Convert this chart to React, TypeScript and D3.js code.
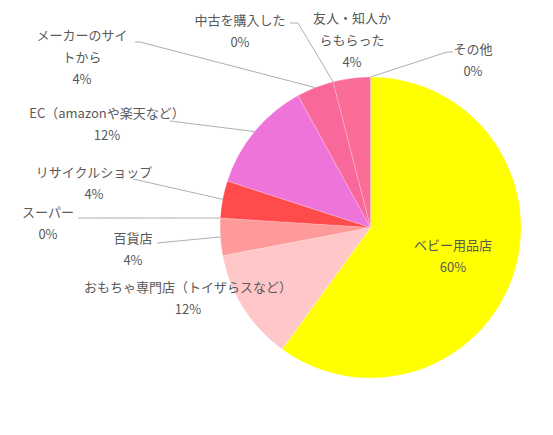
import React from 'react';
import * as d3 from 'd3';

// slices in drawing order, clockwise from 12 o'clock
const categories = [
  'ベビー用品店',
  'おもちゃ専門店（トイザらスなど）',
  '百貨店',
  'スーパー',
  'リサイクルショップ',
  'EC（amazonや楽天など）',
  'メーカーのサイ\nトから',
  '中古を購入した',
  '友人・知人か\nらもらった',
  'その他',
];
const values = [60, 12, 4, 0, 4, 12, 4, 0, 4, 0];
const colors = [
  '#FFFF00', '#FFC7C8', '#FF9A9A', '#FF7C80', '#FF4B4B',
  '#EE74DA', '#F9689A', '#F9689A', '#FA6D96', '#F2F2F2',
];

// label anchor (centre of first line) and leader-line start, per slice
const labelAt: [number, number][] = [
  [453, 245], [188, 287], [133, 238], [48, 212], [94, 172],
  [107, 113], [82, 35], [240, 20], [352, 18], [473, 49],
];
const leaderFrom: ([number, number][] | null)[] = [
  null, null,
  [[157, 243]],
  [[78, 218]],
  [[133, 179]],
  [[170, 121]],
  [[135, 42], [140, 42]],
  [[290, 23], [298, 23]],
  null,
  [[453, 52], [447, 52]],
];

const W = 553;
const H = 435;
const cx = 370.5;
const cy = 227.5;
const R = 150.5;
const lineGap = 22;
const font = '"Noto Sans CJK JP", "Noto Sans", sans-serif';

export default function App() {
  const pie = d3.pie<number>().sort(null).value(d => d).startAngle(0).endAngle(2 * Math.PI);
  const arcs = pie(values);
  const arc = d3.arc<d3.PieArcDatum<number>>().innerRadius(0).outerRadius(R);
  const edge = d3.arc<d3.PieArcDatum<number>>().innerRadius(R).outerRadius(R);
  const line = d3.line();

  return (
    <svg width={W} height={H} style={{ position: 'absolute', left: 0, top: 0, background: '#fff' }}>
      <g transform={`translate(${cx},${cy})`}>
        {arcs.map((a, i) =>
          a.value > 0 ? (
            <path key={i} d={arc(a) || ''} fill={colors[i]} stroke="#ffffff" strokeOpacity={0.35} strokeWidth={0.6} />
          ) : null
        )}
      </g>

      {arcs.map((a, i) => {
        const from = leaderFrom[i];
        if (!from) return null;
        const [ex, ey] = edge.centroid(a);
        const pts: [number, number][] = [...from, [cx + ex, cy + ey]];
        return <path key={'l' + i} d={line(pts) || ''} fill="none" stroke="#A6A6A6" strokeWidth={0.9} />;
      })}

      {categories.map((c, i) => {
        const [lx, ly] = labelAt[i];
        const rows = [...c.split('\n'), `${values[i]}%`];
        return (
          <text key={'t' + i} fontFamily={font} fontSize={13} fill="#595959" textAnchor="middle">
            {rows.map((r, j) => (
              <tspan key={j} x={lx} y={ly + j * lineGap} dy="0.35em">{r}</tspan>
            ))}
          </text>
        );
      })}
    </svg>
  );
}
